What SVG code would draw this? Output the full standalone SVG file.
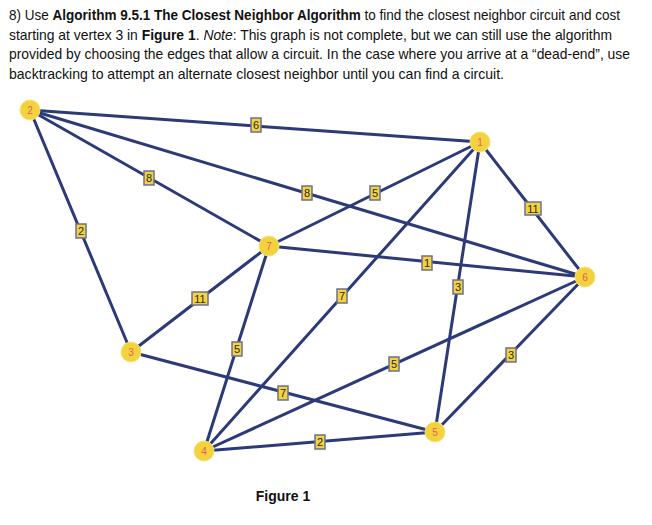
<svg xmlns="http://www.w3.org/2000/svg" width="652" height="525" viewBox="0 0 652 525">
<style>
.hdr{font-family:"Liberation Sans",Arial,sans-serif;font-size:14.5px;fill:#111}
.b{font-weight:bold}
.i{font-style:italic}
.e{stroke:#2c3a78;stroke-width:3;fill:none;stroke-linecap:round}
.n circle{fill:#f3d23d;stroke:#f7e27a;stroke-width:1}
.n text{font-family:"Liberation Sans",Arial,sans-serif;font-size:10px;fill:#e0625a;text-anchor:middle}
.w rect{fill:#f3d23d;stroke:#6b7290;stroke-width:1.5}
.w text{font-family:"Liberation Sans",Arial,sans-serif;font-size:11px;fill:#2a2a2a;text-anchor:middle}
</style>
<rect width="652" height="525" fill="#fff"/>
<text class="hdr" x="9" y="20" textLength="611" lengthAdjust="spacingAndGlyphs">8) Use <tspan class="b">Algorithm 9.5.1 The Closest Neighbor Algorithm</tspan> to find the closest neighbor circuit and cost</text>
<text class="hdr" x="9" y="40" textLength="603" lengthAdjust="spacingAndGlyphs">starting at vertex 3 in <tspan class="b">Figure 1</tspan>. <tspan class="i">Note</tspan>: This graph is not complete, but we can still use the algorithm</text>
<text class="hdr" x="9" y="59" textLength="621" lengthAdjust="spacingAndGlyphs">provided by choosing the edges that allow a circuit. In the case where you arrive at a “dead-end”, use</text>
<text class="hdr" x="9" y="79" textLength="495" lengthAdjust="spacingAndGlyphs">backtracking to attempt an alternate closest neighbor until you can find a circuit.</text>
<g id="edges">
<line class="e" x1="30" y1="110" x2="480" y2="142"/>
<line class="e" x1="30" y1="110" x2="269" y2="246"/>
<line class="e" x1="30" y1="110" x2="585" y2="277"/>
<line class="e" x1="30" y1="110" x2="131" y2="352"/>
<line class="e" x1="480" y1="142" x2="269" y2="246"/>
<line class="e" x1="480" y1="142" x2="204" y2="451"/>
<line class="e" x1="480" y1="142" x2="435" y2="432"/>
<line class="e" x1="480" y1="142" x2="585" y2="277"/>
<line class="e" x1="269" y1="246" x2="585" y2="277"/>
<line class="e" x1="269" y1="246" x2="131" y2="352"/>
<line class="e" x1="269" y1="246" x2="204" y2="451"/>
<line class="e" x1="131" y1="352" x2="435" y2="432"/>
<line class="e" x1="204" y1="451" x2="585" y2="277"/>
<line class="e" x1="204" y1="451" x2="435" y2="432"/>
<line class="e" x1="435" y1="432" x2="585" y2="277"/>
</g>
<g id="weights">
<g class="w"><rect x="251" y="118" width="10" height="14"/><text x="256" y="129">6</text></g>
<g class="w"><rect x="144" y="171" width="10" height="14"/><text x="149" y="182">8</text></g>
<g class="w"><rect x="302" y="186" width="10" height="14"/><text x="307" y="197">8</text></g>
<g class="w"><rect x="76" y="224" width="10" height="14"/><text x="81" y="235">2</text></g>
<g class="w"><rect x="370" y="186" width="10" height="14"/><text x="375" y="197">5</text></g>
<g class="w"><rect x="337" y="289" width="10" height="14"/><text x="342" y="300">7</text></g>
<g class="w"><rect x="453" y="280" width="10" height="14"/><text x="458" y="291">3</text></g>
<g class="w"><rect x="525" y="202" width="16" height="13"/><text x="533" y="212.5">11</text></g>
<g class="w"><rect x="422" y="256" width="10" height="14"/><text x="427" y="267">1</text></g>
<g class="w"><rect x="192" y="292" width="16" height="13"/><text x="200" y="302.5">11</text></g>
<g class="w"><rect x="232" y="342" width="10" height="14"/><text x="237" y="353">5</text></g>
<g class="w"><rect x="278" y="386" width="10" height="14"/><text x="283" y="397">7</text></g>
<g class="w"><rect x="389" y="357" width="10" height="14"/><text x="394" y="368">5</text></g>
<g class="w"><rect x="315" y="435" width="10" height="14"/><text x="320" y="446">2</text></g>
<g class="w"><rect x="506" y="348" width="10" height="14"/><text x="511" y="359">3</text></g>
</g>
<g id="node1" class="n"><circle cx="480" cy="142" r="10"/><text x="480" y="145.5">1</text></g>
<g id="node2" class="n"><circle cx="30" cy="110" r="10"/><text x="30" y="113.5">2</text></g>
<g id="node3" class="n"><circle cx="131" cy="352" r="10"/><text x="131" y="355.5">3</text></g>
<g id="node4" class="n"><circle cx="204" cy="451" r="10"/><text x="204" y="454.5">4</text></g>
<g id="node5" class="n"><circle cx="435" cy="432" r="10"/><text x="435" y="435.5">5</text></g>
<g id="node6" class="n"><circle cx="585" cy="277" r="10"/><text x="585" y="280.5">6</text></g>
<g id="node7" class="n"><circle cx="269" cy="246" r="10"/><text x="269" y="249.5">7</text></g>
<text x="283" y="501" font-family="Liberation Sans, Arial, sans-serif" font-size="14" font-weight="bold" text-anchor="middle" fill="#111">Figure 1</text>
</svg>
